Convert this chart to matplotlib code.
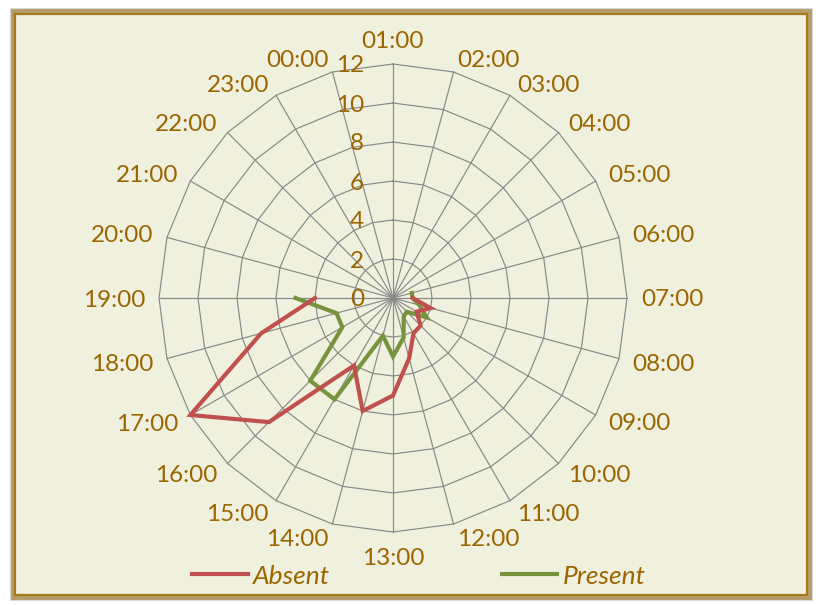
import matplotlib.pyplot as plt
from matplotlib.patches import Rectangle
import numpy as np

plt.rcParams['font.family'] = ['Lato', 'DejaVu Sans']

# hour categories, clockwise starting at the top
hours = ['01:00', '02:00', '03:00', '04:00', '05:00', '06:00', '07:00', '08:00',
         '09:00', '10:00', '11:00', '12:00', '13:00', '14:00', '15:00', '16:00',
         '17:00', '18:00', '19:00', '20:00', '21:00', '22:00', '23:00', '00:00']

# None = no value recorded for that hour (gap in the line)
absent = [None, None, None, None, None, None, 1.0, 2.0, 1.4, 2.0, 2.1, 3.2,
          5, 6, 4, 9, 12, 7, 4, None, None, None, None, None]
present = [None, None, None, None, None, 1.0, 1.0, 1.4, 2.0, 1.0, 1.1, 2.1,
           3, 2, 6, 6, 3, 3, 5, None, None, None, None, None]

r_ticks = [0, 2, 4, 6, 8, 10, 12]

text_col = '#9C6500'
grid_col = '#888888'
bg_col = '#F0F0DF'

fig = plt.figure(figsize=(8.2, 6.05), dpi=100, facecolor='white')

# double frame around the chart area
fig.patches.append(Rectangle((10 / 820, 1 - 600 / 605), 802 / 820, 592 / 605,
                             transform=fig.transFigure, facecolor='#B79C6A',
                             edgecolor='#D8D8D8', lw=0.8, zorder=-10))
fig.patches.append(Rectangle((15 / 820, 1 - 595 / 605), 792 / 820, 581 / 605,
                             transform=fig.transFigure, facecolor=bg_col,
                             edgecolor='#A57A1A', lw=1.6, zorder=-9))

ax = fig.add_axes([159 / 820, 73 / 605, 468 / 820, 468 / 605], projection='polar')
ax.set_theta_zero_location('N')
ax.set_theta_direction(-1)
ax.set_ylim(0, 12)
ax.axis('off')

theta = np.deg2rad(np.arange(len(hours)) * 360 / len(hours))
theta_closed = np.append(theta, theta[0])

# polygon grid and spokes
for r in r_ticks[1:]:
    ax.plot(theta_closed, [r] * len(theta_closed), color=grid_col, lw=0.85, zorder=1,
            clip_on=False)
for t in theta:
    ax.plot([t, t], [0, 12], color=grid_col, lw=0.85, zorder=1, clip_on=False)

a = np.array(absent, dtype=float)
p = np.array(present, dtype=float)
l_p, = ax.plot(theta, p, color='#77933C', lw=3.0, zorder=3, clip_on=False,
               solid_joinstyle='miter', label='Present')
l_a, = ax.plot(theta, a, color='#C0504D', lw=3.0, zorder=4, clip_on=False,
               solid_joinstyle='miter', label='Absent')

# radial axis values left of the top spoke
for r in r_ticks:
    ax.annotate(str(r), xy=(0, r), xytext=(-29, -2), textcoords='offset pixels',
                ha='right', va='center', fontsize=17.5, color=text_col,
                annotation_clip=False)

# hour labels outside the outer polygon
for t, lab in zip(theta, hours):
    s, c = np.sin(t), np.cos(t)
    if abs(s) < 0.01:
        ha = 'center'
        va = 'bottom' if c > 0 else 'top'
        off = (0, 12) if c > 0 else (0, -16)
    else:
        ha = 'left' if s > 0 else 'right'
        va = 'center'
        off = (14 * s, 14 * c - 2)
    ax.annotate(lab, xy=(t, 12), xytext=off, textcoords='offset pixels',
                ha=ha, va=va, fontsize=17.5, color=text_col, annotation_clip=False)

leg = fig.legend(handles=[l_a, l_p], loc='center', bbox_to_anchor=(419 / 820, 1 - 576 / 605),
                 ncol=2, frameon=False, handlelength=2.1, handletextpad=0.2,
                 columnspacing=6.5, prop={'size': 19, 'style': 'italic'})
for txt in leg.get_texts():
    txt.set_color(text_col)

plt.savefig('out.png', dpi=100, facecolor='white')
